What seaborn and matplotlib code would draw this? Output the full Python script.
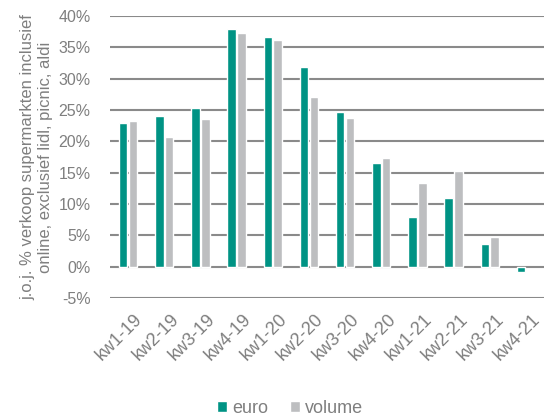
import matplotlib
matplotlib.use("Agg")
import matplotlib.pyplot as plt
from matplotlib.transforms import ScaledTranslation
import seaborn as sns
import pandas as pd
import numpy as np

categories = ["kw1-19", "kw2-19", "kw3-19", "kw4-19", "kw1-20", "kw2-20",
              "kw3-20", "kw4-20", "kw1-21", "kw2-21", "kw3-21", "kw4-21"]
euro = [23.0, 24.1, 25.3, 37.9, 36.7, 31.8, 24.7, 16.6, 7.9, 11.0, 3.6, -0.9]
volume = [23.2, 20.7, 23.6, 37.3, 36.2, 27.1, 23.8, 17.3, 13.4, 15.2, 4.7, np.nan]
series = ["euro", "volume"]
ylabel = "j.o.j. % verkoop supermarkten inclusief\nonline, exclusief lidl, picnic, aldi"

df = pd.DataFrame({
    "kw": categories * 2,
    "serie": [series[0]] * len(categories) + [series[1]] * len(categories),
    "value": euro + volume,
})

sns.set_theme(style="white")
plt.rcParams["font.family"] = ["Liberation Sans", "DejaVu Sans"]
txt = "#7f7f7f"

fig = plt.figure(figsize=(5.44, 4.19), dpi=100)
ax = fig.add_axes([110 / 544, 1 - 298 / 419, 434 / 544, (298 - 16) / 419])

sns.barplot(data=df, x="kw", y="value", hue="serie", order=categories,
            hue_order=series, palette=["#009384", "#bdbec0"], width=0.55,
            gap=0.15, saturation=1, ax=ax, legend=True)

ax.set_ylim(-5, 40)
ax.set_xlim(-0.5, 11.5)
ax.set_yticks(np.arange(-5, 41, 5))
ax.set_yticklabels([f"{v}%" for v in range(-5, 41, 5)], color=txt, fontsize=11.5)
ax.yaxis.grid(True, color="#8a8a8a", linewidth=1.5)
ax.set_axisbelow(True)
for s in ax.spines.values():
    s.set_visible(False)
ax.tick_params(axis="y", length=0, pad=14)
ax.tick_params(axis="x", length=0, pad=9)
off = ScaledTranslation(6 / 100, 0, fig.dpi_scale_trans)
for lab in ax.get_xticklabels():
    lab.set_rotation(45)
    lab.set_ha("right")
    lab.set_rotation_mode("anchor")
    lab.set_color(txt)
    lab.set_fontsize(13)
    lab.set_transform(lab.get_transform() + off)
ax.set_xlabel("")
ax.set_ylabel(ylabel, color=txt, fontsize=12, labelpad=4)

leg = ax.legend(loc="center", bbox_to_anchor=(290 / 544, 1 - 408 / 419),
                bbox_transform=fig.transFigure, ncol=2, frameon=False,
                fontsize=13, handlelength=0.55, handleheight=0.55,
                handletextpad=0.3, columnspacing=1.2)
for t in leg.get_texts():
    t.set_color(txt)

fig.savefig("out.png", dpi=100)
